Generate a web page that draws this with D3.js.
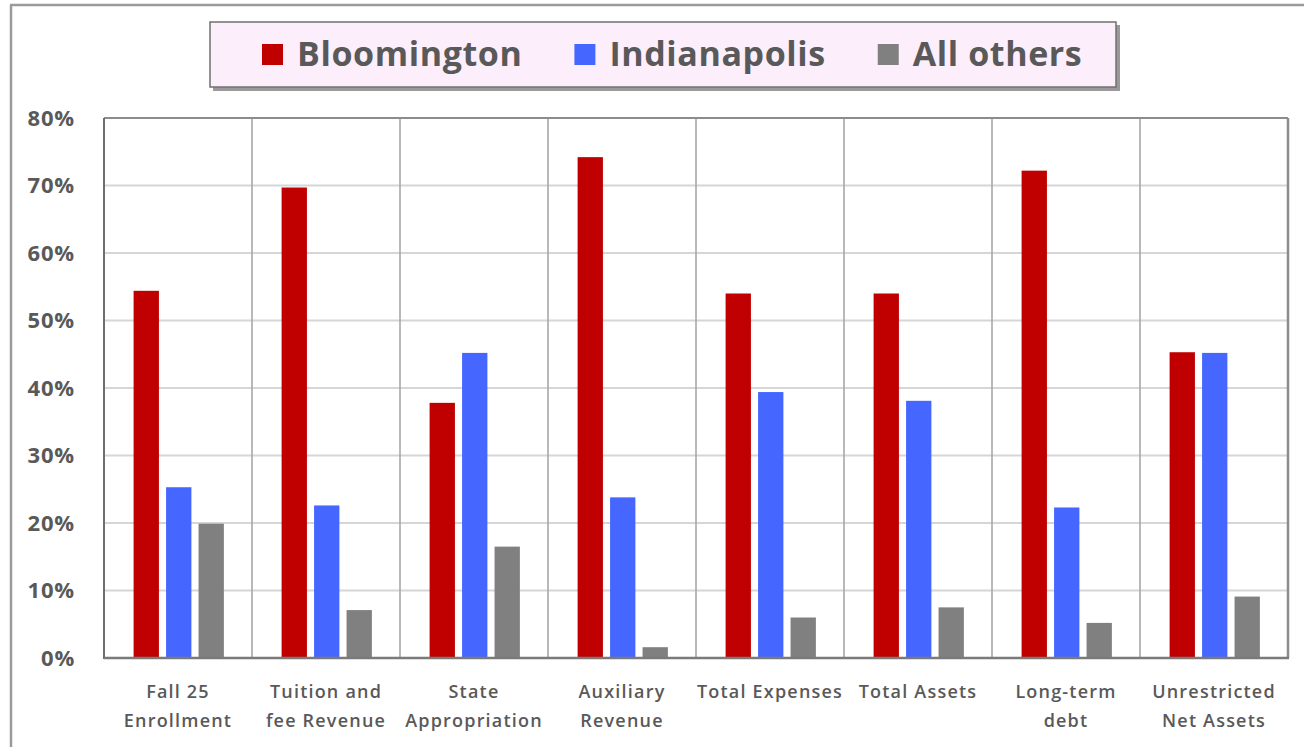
<!DOCTYPE html>
<html><head><meta charset="utf-8">
<script src="https://cdn.jsdelivr.net/npm/d3@7"></script>
<style>body{margin:0;background:#fff}svg{display:block}</style>
</head><body>
<svg id="chart" width="1304" height="747"></svg>
<script>
const categories = [
  ["Fall 25","Enrollment"],
  ["Tuition and","fee Revenue"],
  ["State","Appropriation"],
  ["Auxiliary","Revenue"],
  ["Total Expenses"],
  ["Total Assets"],
  ["Long-term","debt"],
  ["Unrestricted","Net Assets"]
];
const seriesNames = ["Bloomington","Indianapolis","All others"];
const bloomington = [54.4, 69.7, 37.8, 74.2, 54.0, 54.0, 72.2, 45.3];
const indianapolis = [25.3, 22.6, 45.2, 23.8, 39.4, 38.1, 22.3, 45.2];
const allOthers = [19.9, 7.1, 16.5, 1.6, 6.0, 7.5, 5.2, 9.1];
const yTicks = [0,10,20,30,40,50,60,70,80];
const colors = ["#C00000","#4667FF","#808080"];

const series = [bloomington, indianapolis, allOthers];
const svg = d3.select("#chart");
const L = 104, R = 1288, T = 118, B = 658;

// outer frame
svg.append("line").attr("x1",11).attr("x2",11).attr("y1",5).attr("y2",747).attr("stroke","#9a9a9a").attr("stroke-width",2.5);
svg.append("line").attr("x1",10).attr("x2",1304).attr("y1",5).attr("y2",5).attr("stroke","#9a9a9a").attr("stroke-width",2.5);

const catIdx = d3.range(categories.length);
const x0 = d3.scaleBand().domain(catIdx).range([L,R]).padding(0);
const x1 = d3.scaleBand().domain(d3.range(3)).range([x0.bandwidth()*0.2, x0.bandwidth()*0.81]).paddingInner(0.22);
const y = d3.scaleLinear().domain([0,80]).range([B,T]);

// horizontal gridlines
svg.append("g").selectAll("line").data(yTicks.slice(1,-1)).join("line")
  .attr("x1",L).attr("x2",R).attr("y1",d=>y(d)).attr("y2",d=>y(d))
  .attr("stroke","#d6d6d6").attr("stroke-width",2.2);
// vertical separators
svg.append("g").selectAll("line").data(catIdx.slice(1)).join("line")
  .attr("x1",d=>x0(d)).attr("x2",d=>x0(d)).attr("y1",T).attr("y2",B)
  .attr("stroke","#a8a8a8").attr("stroke-width",1.6);

// bars
const g = svg.append("g");
series.forEach((vals,si)=>{
  g.selectAll(null).data(vals).join("rect")
    .attr("x",(d,i)=>x0(i)+x1(si))
    .attr("width",x1.bandwidth())
    .attr("y",d=>y(d))
    .attr("height",d=>B-y(d))
    .attr("fill",colors[si]);
});

// plot border
svg.append("line").attr("x1",L).attr("x2",R).attr("y1",T).attr("y2",T).attr("stroke","#8c8c8c").attr("stroke-width",2);
svg.append("line").attr("x1",R).attr("x2",R).attr("y1",T).attr("y2",B).attr("stroke","#8c8c8c").attr("stroke-width",2.5);
svg.append("line").attr("x1",L).attr("x2",L).attr("y1",T).attr("y2",B+1).attr("stroke","#6e6e6e").attr("stroke-width",2);
svg.append("line").attr("x1",L).attr("x2",R+1).attr("y1",B).attr("y2",B).attr("stroke","#7a7a7a").attr("stroke-width",2.5);

// y axis labels
const yAxis = d3.axisLeft(y).tickValues(yTicks).tickFormat(d=>d+"%").tickSize(0).tickPadding(29);
const ya = svg.append("g").attr("transform",`translate(${L},0)`).call(yAxis);
ya.select(".domain").remove();
ya.selectAll("text").attr("font-family","Open Sans").attr("font-weight",700).attr("font-size",22)
  .attr("letter-spacing",0.8).attr("fill","#595959");

// x labels
const xl = svg.append("g");
categories.forEach((lines,i)=>{
  const cx = x0(i)+x0.bandwidth()/2;
  const t = xl.append("text").attr("x",cx).attr("y",698).attr("text-anchor","middle")
    .attr("font-family","Open Sans").attr("font-weight",600).attr("font-size",18)
    .attr("letter-spacing",1.2).attr("fill","#595959");
  lines.forEach((ln,j)=>t.append("tspan").attr("x",cx).attr("dy",j===0?0:29).text(ln));
});

// legend
const lg = svg.append("g");
lg.append("rect").attr("x",213).attr("y",25).attr("width",907).attr("height",66).attr("fill","#9a9a9a");
lg.append("rect").attr("x",210).attr("y",22).attr("width",906).attr("height",65).attr("fill","#FDEEFB").attr("stroke","#707070").attr("stroke-width",1.5);
let lx = 262;
seriesNames.forEach((name,i)=>{
  lg.append("rect").attr("x",lx).attr("y",44).attr("width",21).attr("height",21).attr("fill",colors[i]);
  const t = lg.append("text").attr("x",lx+35).attr("y",66).attr("font-family","Open Sans").attr("font-weight",700)
    .attr("font-size",34).attr("letter-spacing",0.6).attr("fill","#595959").text(name);
  const w = t.node().getComputedTextLength();
  lx = lx + 35 + w + 52;
});
</script>
</body></html>
